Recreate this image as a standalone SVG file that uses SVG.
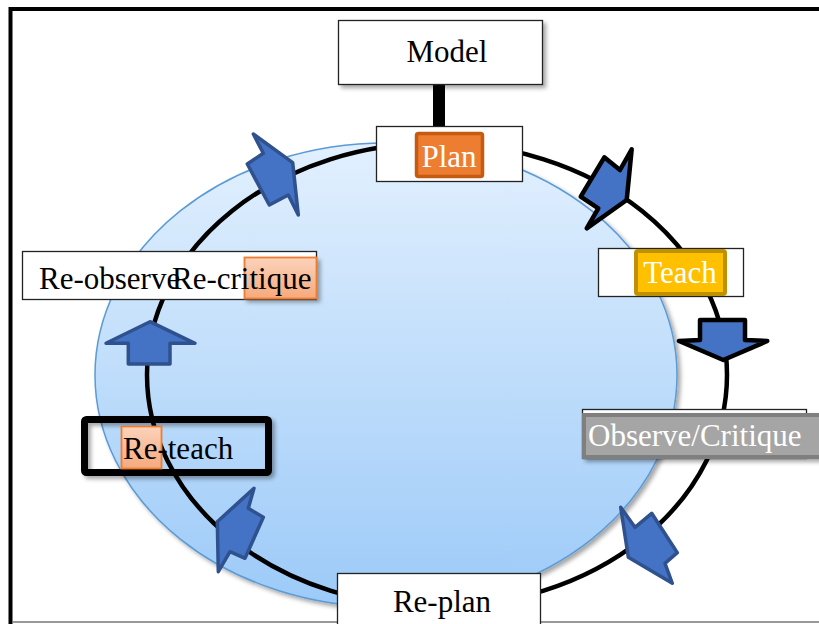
<svg xmlns="http://www.w3.org/2000/svg" width="819" height="624" viewBox="0 0 819 624">
<defs>
<linearGradient id="ell" x1="0" y1="0" x2="0" y2="1">
<stop offset="0" stop-color="#e2f0fe"/>
<stop offset="1" stop-color="#9ccaf8"/>
</linearGradient>
<linearGradient id="peach" x1="0" y1="0" x2="0" y2="1">
<stop offset="0" stop-color="#fbd3bb"/>
<stop offset="1" stop-color="#f7a97c"/>
</linearGradient>
<filter id="sh" x="-10%" y="-10%" width="130%" height="130%">
<feDropShadow dx="3" dy="3" stdDeviation="2" flood-color="#000" flood-opacity="0.35"/>
</filter>
<style>
.box{fill:#fff;stroke:#222;stroke-width:1.3}
.t{font-family:"Liberation Serif","Times New Roman",serif;font-size:31px;fill:#000}
.w{fill:#fff}
.ab{fill:#4472c4;stroke:#2f528f;stroke-width:3.5;stroke-linejoin:round}
.ak{fill:#4472c4;stroke:#000;stroke-width:4.5;stroke-linejoin:round}
.pe{fill:url(#peach);stroke:#ed7d31;stroke-width:1.8}
</style>
</defs>
<rect width="819" height="624" fill="#fff"/>
<path d="M10.5,624 V9 H819" fill="none" stroke="#000" stroke-width="4"/>
<line x1="12" y1="622" x2="819" y2="622" stroke="#777" stroke-width="1.3"/>

<g id="circle-bg">
<ellipse cx="386" cy="375" rx="291" ry="232" fill="url(#ell)" stroke="#5b9bd5" stroke-width="1.5" filter="url(#sh)"/>
</g>

<g id="connectors">
<ellipse cx="437" cy="375" rx="290" ry="232" fill="none" stroke="#000" stroke-width="4.5"/>
<rect x="433" y="84" width="12" height="43" fill="#000"/>
</g>

<g id="arrows">
<polygon class="ab" points="253.3,134 263.3,153.3 247.3,164 269.3,205 288.3,195 298.3,215 292.7,162.7"/>
<polygon class="ak" points="604.3,157.3 620,170 631.7,149.3 626.7,200 586.7,228.3 598.3,208.3 580.7,196.7"/>
<polygon class="ak" points="700,320 745,320 745,340 767.3,341 723.3,360 679,341 700,340"/>
<polygon class="ab" points="620.7,507.3 635,527.3 651.7,513.3 677.3,552.7 665,563.3 672.3,583.3 628.3,557.3"/>
<polygon class="ab" points="254,488.3 248.3,508.3 263.3,517.3 245,558.3 230,551.7 218.3,571.7 217.3,521.7"/>
<polygon class="ab" points="150,321.7 195,343.3 170,343.3 170,364 128.3,364 128.3,343.3 106,343.3"/>
</g>

<g id="model">
<rect class="box" x="338.5" y="20.5" width="204" height="64" filter="url(#sh)"/>
<text class="t" x="447" y="62" text-anchor="middle">Model</text>
</g>

<g id="plan">
<rect class="box" x="376.5" y="126.5" width="146" height="55"/>
<rect x="416.5" y="133.5" width="66" height="43" fill="#ed7d31" stroke="#c55a11" stroke-width="3.5" rx="2"/>
<text class="t w" x="449" y="167" text-anchor="middle">Plan</text>
</g>

<g id="teach">
<rect class="box" x="598.5" y="248.5" width="145" height="48"/>
<rect x="636" y="251" width="89" height="43" fill="#ffc000" stroke="#bf9000" stroke-width="4" rx="2"/>
<text class="t w" x="680" y="283" text-anchor="middle">Teach</text>
</g>

<g id="observe-critique">
<rect class="box" x="582.5" y="409.5" width="224" height="49"/>
<rect x="584" y="415" width="240" height="42" fill="#a5a5a5" stroke="#7f7f7f" stroke-width="4" filter="url(#sh)"/>
<text class="t w" x="588" y="446">Observe/Critique</text>
</g>

<g id="re-observe-critique">
<rect class="box" x="22.5" y="251.5" width="294" height="48"/>
<rect class="pe" x="244.5" y="257.5" width="72" height="41" filter="url(#sh)"/>
<text class="t" x="39" y="289">Re-observe</text>
<text class="t" x="172" y="289">Re-critique</text>
</g>

<g id="re-teach">
<rect x="84.5" y="419.5" width="184" height="53" fill="none" stroke="#000" stroke-width="7" rx="2" filter="url(#sh)"/>
<rect class="pe" x="121.5" y="426.5" width="40" height="42"/>
<text class="t" x="123" y="459">Re-teach</text>
</g>

<g id="re-plan">
<rect class="box" x="337.5" y="573.5" width="203" height="60"/>
<text class="t" x="442" y="612" text-anchor="middle">Re-plan</text>
</g>
</svg>
